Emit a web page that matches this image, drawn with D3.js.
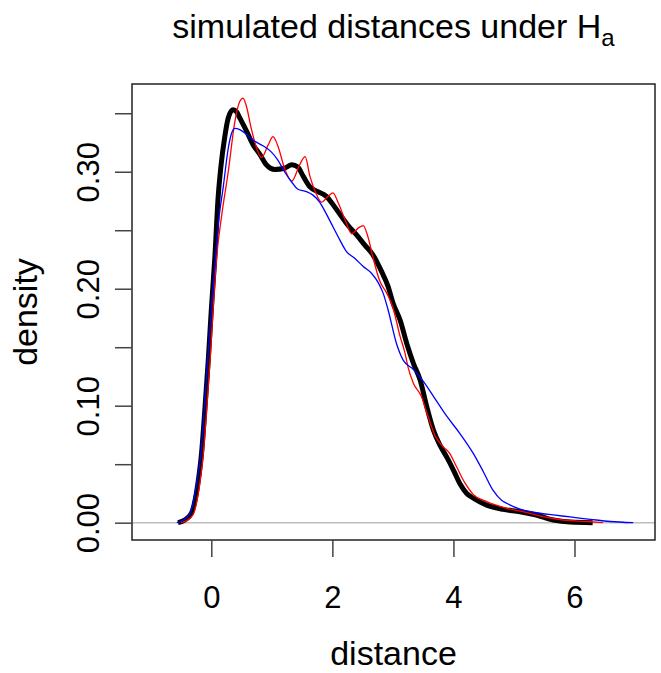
<!DOCTYPE html>
<html>
<head>
<meta charset="utf-8">
<script src="https://cdn.jsdelivr.net/npm/d3@7"></script>
<style>
  body { margin: 0; background: #fff; }
  text { font-family: "Liberation Sans", Arial, sans-serif; fill: #000; }
</style>
</head>
<body>
<div id="chart"></div>
<script>
// density estimates: [distance, density]
var blackCurve = [
  [-0.55, 0], [-0.45, 0.002], [-0.33, 0.008], [-0.22, 0.034], [-0.16, 0.060], [-0.11, 0.094],
  [-0.05, 0.139], [0.0, 0.182], [0.06, 0.228], [0.11, 0.276], [0.16, 0.305], [0.22, 0.329],
  [0.28, 0.346], [0.36, 0.353], [0.42, 0.351], [0.47, 0.346], [0.58, 0.335], [0.69, 0.323],
  [0.80, 0.315], [0.91, 0.306], [1.05, 0.302], [1.21, 0.303], [1.33, 0.306], [1.43, 0.304],
  [1.52, 0.296], [1.63, 0.287], [1.76, 0.283], [1.90, 0.279], [2.01, 0.272], [2.12, 0.264],
  [2.26, 0.254], [2.40, 0.246], [2.54, 0.237], [2.67, 0.229], [2.81, 0.215], [2.92, 0.202],
  [3.00, 0.188], [3.12, 0.173], [3.23, 0.153], [3.34, 0.136], [3.45, 0.122], [3.56, 0.099],
  [3.67, 0.079], [3.78, 0.066], [3.89, 0.056], [4.00, 0.045], [4.11, 0.033], [4.22, 0.025],
  [4.33, 0.021], [4.55, 0.015], [4.82, 0.0114], [5.10, 0.0094], [5.37, 0.0066], [5.65, 0.0023],
  [5.93, 0.0005], [6.30, 0]
];
var redCurve = [
  [-0.50, 0], [-0.40, 0.002], [-0.30, 0.007], [-0.20, 0.030], [-0.13, 0.060], [-0.08, 0.094],
  [-0.02, 0.139], [0.03, 0.182], [0.09, 0.228], [0.17, 0.262], [0.28, 0.300], [0.39, 0.343],
  [0.47, 0.360], [0.525, 0.363], [0.58, 0.356], [0.66, 0.337], [0.75, 0.320], [0.83, 0.312],
  [0.94, 0.323], [1.02, 0.330], [1.10, 0.322], [1.21, 0.303], [1.33, 0.292], [1.46, 0.306],
  [1.55, 0.313], [1.63, 0.296], [1.71, 0.284], [1.82, 0.274], [1.93, 0.279], [2.01, 0.282],
  [2.10, 0.273], [2.21, 0.259], [2.32, 0.247], [2.43, 0.252], [2.51, 0.254], [2.59, 0.244],
  [2.67, 0.227], [2.78, 0.207], [2.90, 0.196], [3.00, 0.184], [3.12, 0.159], [3.20, 0.145],
  [3.25, 0.133], [3.34, 0.119], [3.47, 0.108], [3.56, 0.094], [3.70, 0.074], [3.83, 0.065],
  [3.94, 0.059], [4.05, 0.048], [4.19, 0.034], [4.33, 0.024], [4.55, 0.018], [4.88, 0.0123],
  [5.15, 0.0094], [5.48, 0.0051], [5.81, 0.0023], [6.20, 0.001], [6.47, 0]
];
var blueCurve = [
  [-0.57, 0], [-0.47, 0.002], [-0.35, 0.008], [-0.24, 0.034], [-0.17, 0.060], [-0.12, 0.094],
  [-0.06, 0.139], [0.0, 0.182], [0.07, 0.228], [0.13, 0.262], [0.195, 0.286], [0.28, 0.320],
  [0.33, 0.332], [0.39, 0.337], [0.47, 0.336], [0.58, 0.332], [0.72, 0.326], [0.86, 0.322],
  [0.99, 0.317], [1.10, 0.310], [1.21, 0.300], [1.33, 0.291], [1.43, 0.285], [1.57, 0.283],
  [1.68, 0.280], [1.79, 0.274], [1.90, 0.264], [2.01, 0.253], [2.12, 0.242], [2.23, 0.232],
  [2.37, 0.226], [2.51, 0.219], [2.65, 0.213], [2.76, 0.205], [2.84, 0.196], [2.92, 0.182],
  [3.06, 0.153], [3.17, 0.139], [3.34, 0.131], [3.50, 0.121], [3.67, 0.108], [3.89, 0.091],
  [4.11, 0.076], [4.33, 0.059], [4.49, 0.044], [4.65, 0.028], [4.80, 0.019], [4.88, 0.0166],
  [5.10, 0.0115], [5.37, 0.0085], [5.65, 0.0066], [5.93, 0.0049], [6.26, 0.0029], [6.59, 0.001],
  [6.97, 0]
];

var xTicks = [0, 2, 4, 6];
var yTicks = [0, 0.05, 0.10, 0.15, 0.20, 0.25, 0.30, 0.35];
var yLabels = ["0.00", "", "0.10", "", "0.20", "", "0.30", ""];

var width = 661, height = 673;
var plotL = 132, plotR = 655, plotT = 84, plotB = 540;

var x = d3.scaleLinear().domain([-1.31, 7.33]).range([plotL, plotR]);
var y = d3.scaleLinear().domain([-0.0148, 0.375]).range([plotB, plotT]);

var svg = d3.select("#chart").append("svg")
  .attr("width", width)
  .attr("height", height);

// zero reference line
svg.append("line")
  .attr("x1", plotL).attr("x2", plotR)
  .attr("y1", y(0)).attr("y2", y(0))
  .attr("stroke", "#bebebe")
  .attr("stroke-width", 1.6);

var line = d3.line()
  .x(function (d) { return x(d[0]); })
  .y(function (d) { return y(d[1]); })
  .curve(d3.curveMonotoneX);

var series = [
  {pts: blackCurve, color: "#000000", w: 5},
  {pts: redCurve, color: "#ff0000", w: 1.3},
  {pts: blueCurve, color: "#0000ff", w: 1.3}
];

svg.selectAll(".curve")
  .data(series)
  .enter().append("path")
  .attr("class", "curve")
  .attr("d", function (d) { return line(d.pts); })
  .attr("fill", "none")
  .attr("stroke", function (d) { return d.color; })
  .attr("stroke-width", function (d) { return d.w; })
  .attr("stroke-linejoin", "round");

// plot box
svg.append("rect")
  .attr("x", plotL).attr("y", plotT)
  .attr("width", plotR - plotL).attr("height", plotB - plotT)
  .attr("fill", "none")
  .attr("stroke", "#222")
  .attr("stroke-width", 1.5);

// x axis
var xAxis = svg.append("g")
  .attr("transform", "translate(0," + plotB + ")")
  .call(d3.axisBottom(x).tickValues(xTicks).tickSize(17).tickPadding(29).tickFormat(d3.format("d")));
xAxis.select(".domain").remove();
xAxis.selectAll(".tick line").attr("stroke", "#444").attr("stroke-width", 1.5);
xAxis.selectAll(".tick text")
  .style("font-size", "31px")
  .style("font-family", "'Liberation Sans', Arial, sans-serif")
  .attr("fill", "#000");

// y axis, labels parallel to the axis
var yAxis = svg.append("g")
  .attr("transform", "translate(" + plotL + ",0)")
  .call(d3.axisLeft(y).tickValues(yTicks).tickSize(17)
    .tickFormat(function (d, i) { return yLabels[i]; }));
yAxis.select(".domain").remove();
yAxis.selectAll(".tick line").attr("stroke", "#444").attr("stroke-width", 1.5);
yAxis.selectAll(".tick text")
  .attr("x", 0).attr("y", 0).attr("dy", null)
  .attr("text-anchor", "middle")
  .attr("transform", "translate(-33,0) rotate(-90)")
  .style("font-size", "31px")
  .style("font-family", "'Liberation Sans', Arial, sans-serif")
  .attr("fill", "#000");

// titles
var title = svg.append("text")
  .attr("x", (plotL + plotR) / 2)
  .attr("y", 38)
  .attr("text-anchor", "middle")
  .style("font-size", "34px");
title.append("tspan").text("simulated distances under H");
title.append("tspan").attr("dy", 8).style("font-size", "24px").text("a");

svg.append("text")
  .attr("x", (plotL + plotR) / 2)
  .attr("y", 665)
  .attr("text-anchor", "middle")
  .style("font-size", "34px")
  .text("distance");

svg.append("text")
  .attr("transform", "translate(37," + (plotT + plotB) / 2 + ") rotate(-90)")
  .attr("text-anchor", "middle")
  .style("font-size", "34px")
  .text("density");
</script>
</body>
</html>
